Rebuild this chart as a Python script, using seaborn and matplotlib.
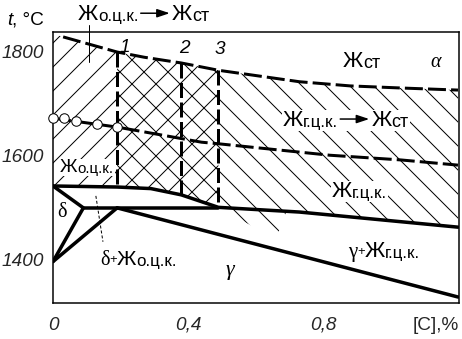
import numpy as np
import pandas as pd
import seaborn as sns
import matplotlib
matplotlib.use("Agg")
import matplotlib.pyplot as plt
from matplotlib.transforms import IdentityTransform
from matplotlib.patches import Rectangle, FancyArrowPatch

# --- data (x = [C], %, y = t, °C) ---
top_x = [0.0, 0.03, 0.19, 0.27, 0.38, 0.49, 0.73, 0.88, 1.03, 1.2]
top_y = [1834, 1828, 1799, 1789, 1778, 1764, 1742, 1734, 1730, 1726]

mid_x = [0.0, 0.19, 0.32, 0.44, 0.49, 0.67, 0.82, 1.03, 1.2]
mid_y = [1672, 1655, 1640, 1626, 1623, 1611, 1601, 1592, 1582]

circ_x = [0.0, 0.033, 0.068, 0.13, 0.19]
circ_y = [1672, 1672, 1667, 1661, 1655]

liq_x = [0.0, 0.19, 0.29, 0.38, 0.49, 0.73, 1.2]
liq_y = [1542, 1540, 1537, 1525, 1501, 1492, 1463]

peri_x = [0.09, 0.49]
peri_y = [1500, 1500]

delta_x = [0.0, 0.09, 0.0]
delta_y = [1542, 1500, 1397]

dg_x = [0.0, 0.19]
dg_y = [1397, 1500]

sol_x = [0.19, 1.2]
sol_y = [1500, 1329]

vert_x = [0.19, 0.38, 0.49]
vert_names = ["1", "2", "3"]

xtick_vals = [0, 0.4, 0.8]
xtick_text = ["0", "0,4", "0,8"]
ytick_vals = [1400, 1600, 1800]

W, H = 462, 339
sns.set_theme(style="white")
plt.rcParams["font.family"] = ["Liberation Sans", "DejaVu Sans"]
plt.rcParams["hatch.linewidth"] = 1.0

fig = plt.figure(figsize=(W / 72, H / 72), dpi=72)
ax = fig.add_axes([53 / W, 36 / H, 406 / W, 271 / H])
ax.set_xlim(0, 1.203)
ax.set_ylim(1317.5, 1837.4)

# hatched regions
hx1 = np.array([0.0, 0.03, 0.19, 0.27, 0.38, 0.49])
ax.fill_between(hx1, np.interp(hx1, top_x, top_y), np.interp(hx1, liq_x, liq_y),
                facecolor="none", edgecolor="black", linewidth=0, hatch="/")
hx2 = np.array([0.19, 0.27, 0.38, 0.49, 0.73, 0.88, 1.03, 1.2])
ax.fill_between(hx2, np.interp(hx2, top_x, top_y), np.interp(hx2, liq_x, liq_y),
                facecolor="none", edgecolor="black", linewidth=0, hatch="\\")
# stray hatching under the liquidus right of line 3
ax.fill([0.49, 0.69, 0.66], [1501, 1490, 1440], facecolor="none",
        edgecolor="black", linewidth=0, hatch="\\")

def line(xs, ys, **kw):
    df = pd.DataFrame({"x": xs, "y": ys})
    sns.lineplot(data=df, x="x", y="y", ax=ax, sort=False, estimator=None,
                 color="black", **kw)

line(top_x[1:], top_y[1:], lw=3, linestyle=(0, (6, 1.7)))
line(mid_x, mid_y, lw=3, linestyle=(0, (6, 1.7)))
line(liq_x, liq_y, lw=3.5)
line(peri_x, peri_y, lw=3.5)
line(delta_x, delta_y, lw=3.5)
line(dg_x, dg_y, lw=3.5)
line(sol_x, sol_y, lw=3.5)
for vx in vert_x:
    line([vx, vx], [np.interp(vx, top_x, top_y), np.interp(vx, liq_x, liq_y)],
         lw=3, linestyle=(0, (5, 1.5)))

sns.scatterplot(x=circ_x, y=circ_y, ax=ax, s=90, facecolor="white",
                edgecolor="black", linewidth=1, zorder=5, clip_on=False)

# leader lines
ax.plot([0.107, 0.107], [1851, 1780], color="black", lw=1, clip_on=False)
ax.plot([0.127, 0.148], [1523, 1435], color="black", lw=1, linestyle=(0, (3, 2)))

for sp in ax.spines.values():
    sp.set_color("black")
    sp.set_linewidth(1.5)

ax.set_xlabel("")
ax.set_ylabel("")
ax.set_xticks(xtick_vals + [1.135])
ax.set_xticklabels(xtick_text + ["[C],%"])
ax.set_xticks(xtick_vals[1:], minor=True)
ax.tick_params(axis="x", which="major", length=0, pad=14, labelsize=19)
ax.tick_params(axis="x", which="minor", direction="in", length=13, width=1,
               bottom=True, color="black")
for lab in ax.get_xticklabels()[:3]:
    lab.set_style("italic")
ax.set_yticks(ytick_vals)
ax.set_yticklabels([str(v) for v in ytick_vals], style="italic")
ax.tick_params(axis="y", length=0, pad=9, labelsize=19)

r = fig.canvas.get_renderer()


def chain(x, y, parts, bg=False):
    # lay out pieces of a label one after another starting at data point (x, y)
    px, py = ax.transData.transform((x, y))
    x0 = px
    tops, bots = [], []
    for p in parts:
        if p[0] == "arrow":
            L = p[1]
            fig.add_artist(FancyArrowPatch((px + 2, py + 7), (px + L, py + 7),
                                           transform=IdentityTransform(),
                                           arrowstyle="-|>,head_length=0.75,head_width=0.25",
                                           lw=1.5, color="black", shrinkA=0, shrinkB=0,
                                           mutation_scale=14, zorder=6))
            px += L + 2
            continue
        s, size, dy, fam, sty = p
        t = fig.text(px, py - dy, s, transform=IdentityTransform(), fontsize=size,
                     ha="left", va="baseline", family=fam, style=sty, color="black",
                     zorder=6)
        bb = t.get_window_extent(r)
        tops.append(bb.y1)
        bots.append(bb.y0)
        px = bb.x1
    if bg:
        fig.add_artist(Rectangle((x0 - 1, min(bots)), px - x0 + 2, max(tops) - min(bots),
                                 transform=IdentityTransform(), facecolor="white",
                                 edgecolor="none", zorder=4))


SANS = ["Liberation Sans", "DejaVu Sans"]
SERIF = ["Liberation Serif", "DejaVu Serif"]

chain(-0.136, 1851, [("t", 19, 0, SANS, "italic"), (", °C", 19, 0, SANS, "normal")])
chain(0.074, 1860, [("Ж", 22, 0, SANS, "normal"), ("о.ц.к.", 17, 1, SANS, "normal"),
                    ("arrow", 31), ("Ж", 22, 0, SANS, "normal"), ("ст", 18, 1, SANS, "normal")])
chain(0.859, 1770, [("Ж", 22, 0, SANS, "normal"), ("ст", 18, 1, SANS, "normal")])
chain(1.117, 1770, [("α", 20, 0, SERIF, "italic")])
chain(0.681, 1657, [("Ж", 22, 0, SANS, "normal"), ("г.ц.к.", 17, 1, SANS, "normal"),
                    ("arrow", 31), ("Ж", 22, 0, SANS, "normal"), ("ст", 18, 1, SANS, "normal")],
      bg=True)
chain(0.021, 1569, [("Ж", 19, 0, SANS, "normal"), ("о.ц.к.", 15, 1, SANS, "normal")], bg=True)
chain(0.827, 1521, [("Ж", 22, 0, SANS, "normal"), ("г.ц.к.", 17, 1, SANS, "normal")], bg=True)
chain(0.012, 1483, [("δ", 20, 0, SERIF, "normal")])
chain(0.139, 1390, [("δ", 20, 0, SERIF, "normal"), ("+", 13, -2, SANS, "normal"),
                    ("Ж", 21, 0, SANS, "normal"), ("о.ц.к.", 17, 1, SANS, "normal")])
chain(0.51, 1372, [("γ", 22, 0, SERIF, "italic")])
chain(0.874, 1406, [("γ", 21, 0, SERIF, "normal"), ("+", 13, -2, SANS, "normal"),
                    ("Ж", 22, 0, SANS, "normal"), ("г.ц.к.", 17, 1, SANS, "normal")])

name_pos = [(0.213, 1807), (0.388, 1805), (0.495, 1803)]
for (nx, ny), name in zip(name_pos, vert_names):
    ax.text(nx, ny, name, fontsize=19, style="italic", ha="center", va="center",
            color="black", zorder=6)

fig.savefig("out.png", dpi=72)
